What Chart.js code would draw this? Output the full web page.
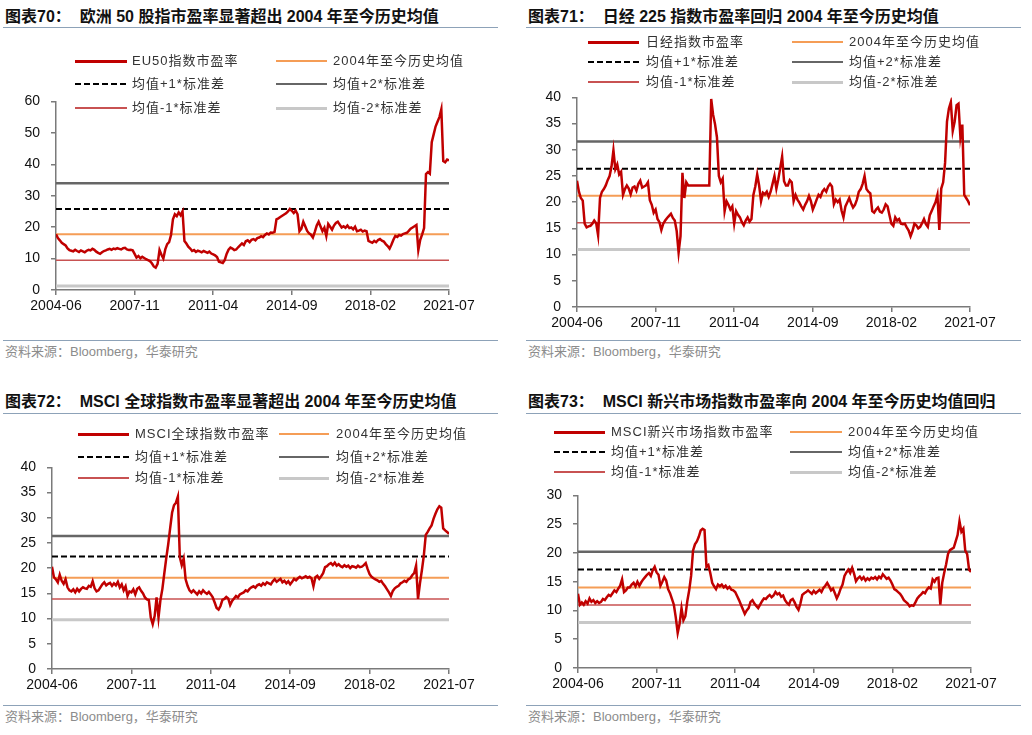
<!DOCTYPE html>
<html>
<head>
<meta charset="utf-8">
<script src="https://cdn.jsdelivr.net/npm/chart.js@4.4.0/dist/chart.umd.min.js"></script>
<style>
  body { margin: 0; width: 1032px; height: 735px; background: #fff; position: relative; overflow: hidden;
         font-family: "Liberation Sans", Arial, "Noto Sans CJK SC", sans-serif; }
  .abs { position: absolute; }
  .title { font-weight: bold; font-size: 16px; color: #111; white-space: pre; line-height: 20px;
           font-family: "Liberation Sans", Arial, "Noto Sans CJK SC", sans-serif; }
  .rule { height: 1px; background: #8DA2B8; }
  .src { font-size: 13px; color: #8c8c8c; white-space: nowrap; line-height: 16px; }
  .lg { font-size: 13px; color: #333; white-space: nowrap; line-height: 16px;
        font-family: "Liberation Sans", "Noto Sans CJK SC", sans-serif; letter-spacing: 1px; }
</style>
</head>
<body>
<script>
// month index 0 = 2004-06 ... 205 = 2021-07
const xTickLabels = ["2004-06", "2007-11", "2011-04", "2014-09", "2018-02", "2021-07"];
const bandNames = ["2004年至今历史均值", "均值+1*标准差", "均值+2*标准差", "均值-1*标准差", "均值-2*标准差"];
const sourceText = "资料来源：Bloomberg，华泰研究";

// EU50
const eu50Pe = [
  17.7, 16.5, 15.8, 15.0, 14.6, 14.2, 13.2,
  12.7, 12.5, 12.3, 12.8, 12.4, 12.1, 12.6, 12.3, 12.0, 12.5, 12.8, 12.6, 13.1, 12.8, 12.2, 11.8, 11.5,
  12.0, 12.4, 12.6, 12.9, 13.1, 12.8, 13.2, 13.0, 13.3, 13.1, 12.9, 13.3, 13.4, 12.9, 12.7, 12.8, 12.6,
  11.5, 10.3, 10.8, 10.1, 10.6, 10.2, 9.8, 9.5, 9.2, 8.5, 7.5, 7.1,
  8.3, 12.7, 11.2, 10.0, 12.9, 14.6, 15.2, 17.5, 22.5,
  24.1, 23.5, 24.7, 23.8, 25.0,
  15.6, 14.8, 13.8, 13.2, 12.4, 12.7, 12.1, 12.5, 12.3, 12.0, 12.4, 12.1, 11.8, 12.2, 11.6, 11.3, 11.0,
  10.5, 9.0, 8.8, 8.6, 9.5, 11.5, 12.8, 13.5,
  13.2, 12.7, 12.9, 13.6, 14.2, 14.8, 14.3, 15.5, 15.8,
  15.2, 16.0, 16.2, 15.8, 16.5, 16.7, 17.1, 16.8, 17.5, 18.0, 17.7, 18.3, 18.2, 18.5,
  22.5, 22.8, 23.2, 23.6, 24.0, 24.4, 25.0, 25.8, 25.2, 24.5, 25.3, 24.1,
  18.7, 19.5, 21.7, 20.3, 18.8, 18.0, 17.6, 16.7, 18.5, 20.5, 21.7, 20.2, 18.7, 19.8, 17.2, 21.0, 20.1, 19.2,
  20.5, 21.3, 21.7, 20.8, 19.9, 20.3, 19.8, 20.5, 19.7, 19.9, 19.3, 20.1, 18.7, 18.9, 19.2, 18.6, 18.9, 18.7,
  15.6, 15.3, 15.0, 15.6, 15.2, 15.9, 16.2, 15.7, 15.4, 14.6, 14.0, 13.2, 14.5,
  16.0, 17.2, 16.9, 17.5, 17.3, 17.8, 18.0, 18.2, 18.8, 19.5, 19.9, 20.3, 20.7,
  12.7, 16.0, 17.7, 19.7, 36.9, 37.5, 37.0, 47.0, 49.5, 52.0, 53.5, 55.0, 57.5, 41.0, 40.6, 41.5, 41.2
];
const eu50Bands = [17.7, 25.8, 34.0, 9.5, 1.3];

// Nikkei 225
const nikkeiPe = [
  24.1, 22.0, 20.8, 20.3,
  15.9, 15.2, 15.4, 15.5, 15.9, 16.5, 16.0, 13.7,
  20.8, 22.0, 22.5, 23.2, 24.2, 25.0, 26.8, 29.9, 26.3,
  27.2, 25.3, 25.8, 21.4, 22.5, 23.2, 22.6, 21.5, 22.8, 23.0, 22.2, 23.5, 24.1, 22.8, 23.0, 23.2, 23.8, 20.4,
  19.5, 18.0, 18.6, 16.8, 16.2, 14.7, 15.9, 16.5, 17.0, 17.4, 17.8, 17.0, 16.5, 14.5, 10.4,
  13.5, 25.6, 20.8, 23.8, 23.2,
  23.2, 23.2, 23.2, 23.2, 23.2, 23.2, 23.2, 23.2, 23.2, 23.2, 23.2,
  39.7, 36.7, 34.9, 32.4, 25.0, 23.8, 24.5, 18.3,
  20.2, 19.5, 18.6, 19.2, 15.9, 18.3, 17.6, 17.1, 16.2, 15.6, 16.5, 17.1, 16.3, 16.8,
  21.4, 23.0, 25.3, 23.2, 20.2, 21.8, 21.5, 22.0, 21.0, 22.0, 23.5, 25.0, 22.6, 24.4, 26.5, 28.7,
  24.0, 23.2, 23.2, 24.2, 23.8, 20.2, 21.4, 20.5, 19.9, 19.2, 18.6, 19.5, 20.2, 21.2, 20.2, 18.6, 19.5, 20.5, 21.4,
  21.0, 22.0, 22.5, 22.0, 23.0, 23.5, 23.0, 19.6, 20.5, 20.0, 20.5, 18.4, 17.1, 19.2, 20.0, 20.8, 19.8, 19.0,
  19.5, 20.5, 22.0, 22.5, 23.5, 25.0, 22.5, 22.0, 21.7,
  18.3, 18.0, 18.6, 19.0, 18.2, 18.0, 18.6, 19.6, 19.2, 17.5,
  15.9, 15.5, 17.1, 16.5, 16.8, 15.9, 15.8, 15.9, 15.2, 14.6, 13.5, 14.5, 15.9, 15.6, 15.0, 15.3,
  16.0, 16.8, 15.8, 15.3, 17.5, 18.3, 19.2, 20.0, 21.4, 14.7, 22.6,
  23.8, 27.5, 35.4, 37.9, 39.1, 33.6, 35.4, 38.5, 38.8, 32.4, 34.8, 21.4, 20.8, 20.2, 19.4
];
const nikkeiBands = [21.25, 26.4, 31.6, 16.1, 10.95];

// MSCI World
const msciWorldPe = [
  20.3, 18.2, 17.8, 17.2, 18.7, 17.5, 16.9, 17.8, 16.2, 15.6,
  15.4, 15.8, 15.2, 15.9, 15.4, 15.9, 16.2, 16.0, 15.9, 16.5, 16.3, 17.4, 16.0, 15.4, 15.6, 16.2,
  16.8, 17.2, 16.6, 16.9, 17.1, 16.5, 17.0, 16.6, 17.3, 16.2, 16.8, 15.6, 16.4, 14.5, 15.4,
  15.2, 15.8, 14.8, 15.9, 16.2, 15.5, 15.0, 14.2, 13.8, 13.7,
  10.2, 8.9, 10.5, 14.2, 10.2, 13.7, 15.9, 19.0,
  22.0, 24.7, 27.9, 31.0, 32.5, 33.0, 34.2,
  22.2, 20.6, 21.9, 17.8, 16.5, 15.6,
  15.2, 15.6, 15.2, 14.8, 15.4, 15.0, 15.6, 15.2, 14.9, 15.3, 14.8, 14.2, 13.2, 12.1, 11.8,
  12.5, 13.7, 13.9, 14.3, 14.0, 12.7, 13.5, 14.0, 14.5, 14.2, 14.8, 15.0, 15.2, 15.6,
  15.4, 15.9, 16.2, 16.4, 16.1, 16.6, 16.8, 16.5, 17.0, 16.7, 17.2, 17.0, 16.8, 17.4, 17.8,
  17.3, 17.6, 17.9, 17.2, 17.5, 17.0, 17.4, 16.8, 17.3, 17.9, 17.6, 18.0, 18.3, 18.0, 18.2,
  18.4, 18.1, 18.3, 18.0, 16.4, 18.2, 18.5, 17.9, 18.4, 19.0,
  20.2, 20.4, 20.8, 21.0, 20.6, 21.1, 20.5, 20.8, 20.4, 20.2, 20.6, 20.3, 20.5, 20.0, 20.4,
  20.3, 20.1, 20.5, 20.2, 20.3, 20.6, 21.0, 19.8, 18.8, 18.3,
  18.0, 17.8, 17.6, 17.3, 17.5, 16.9, 16.4, 15.8, 15.2, 14.5, 15.5, 16.0, 16.3, 16.5,
  17.0, 17.2, 17.5, 17.3, 17.8, 18.0, 18.6, 19.0, 20.5, 13.9, 17.0,
  19.6, 22.5, 26.6, 27.2, 27.9, 28.5, 29.8, 30.8, 31.7, 32.3, 32.0, 27.9, 27.5, 27.2, 26.8
];
const msciWorldBands = [18.1, 22.3, 26.4, 13.9, 9.75];

// MSCI Emerging Markets
const msciEmPe = [
  12.9, 11.0, 11.4, 11.0, 11.6, 11.2, 12.1, 11.5, 11.8, 11.3, 11.6,
  11.3, 11.5, 12.0, 11.8, 12.3, 12.7, 12.5, 13.0, 13.5, 13.2, 13.8, 14.3, 15.4, 13.2,
  13.5, 14.0, 14.0, 14.5, 14.8, 14.2, 15.0, 14.3, 14.9, 15.4, 15.8, 16.2, 16.5, 16.0, 17.0, 17.6, 16.6,
  16.2, 14.3, 15.0, 15.8, 15.2, 13.7, 13.0, 12.0, 11.0,
  8.8, 6.1, 7.7, 10.4, 8.3, 9.0, 11.6, 13.5,
  16.0, 20.4, 21.5, 22.0, 22.8, 23.9, 24.2, 24.0,
  17.6, 17.9, 16.5, 14.8, 14.2, 13.7,
  14.5, 14.2, 14.5, 14.0, 14.3, 13.8, 14.1, 13.6, 13.5, 13.2, 12.5, 11.8, 11.0, 10.2, 9.4,
  10.0, 10.4, 11.5, 11.8, 11.2, 10.8, 10.4, 11.0, 11.6, 12.1, 12.0, 12.4, 12.7, 12.3,
  12.6, 13.2, 12.8, 13.0, 12.4, 12.6, 11.8, 11.3, 11.0, 11.8, 12.0, 11.4, 10.6, 10.1, 11.2, 12.7, 13.0, 13.2, 13.5,
  13.2, 12.9, 13.4, 13.0, 13.3, 13.6, 13.2, 13.9, 14.3, 14.8, 14.2, 13.5, 13.8, 13.0, 12.1, 12.8, 13.8, 14.5, 16.0, 16.6,
  17.1, 16.5, 17.4, 16.4, 15.1, 15.6, 15.9, 15.4, 15.8, 15.2, 15.6, 15.3, 15.7, 15.5, 15.8, 15.4, 15.9, 15.6,
  16.3, 15.9, 15.5, 15.7, 15.2, 14.5,
  13.7, 13.5, 13.2, 12.9, 12.4, 11.8, 11.5, 11.2, 10.7, 10.9, 10.8, 11.4, 12.1, 12.5, 12.8, 13.2,
  13.0, 13.6, 14.0, 13.8, 15.4, 15.0, 15.6, 15.7, 11.0, 14.8,
  16.5, 18.0, 19.8, 20.5, 20.7, 20.9, 22.0, 23.1, 25.5, 23.7, 24.2, 20.4, 19.8, 17.1, 16.7
];
const msciEmBands = [14.0, 17.1, 20.2, 10.95, 7.9];

const RED = "#C00000";
const bandStyles = [
  { color: "#F59D56", width: 2, dash: [] },
  { color: "#000000", width: 2, dash: [6, 3] },
  { color: "#666666", width: 2.5, dash: [] },
  { color: "#C85252", width: 1.5, dash: [] },
  { color: "#C8C8C8", width: 3, dash: [] }
];

const panels = [
  { title: "图表70：  欧洲 50 股指市盈率显著超出 2004 年至今历史均值", name: "EU50指数市盈率",
    values: eu50Pe, bands: eu50Bands, yMax: 60, yStep: 10,
    box: { x: 3, titleY: 7, ruleY: 27, srcRuleY: 340, srcY: 344 },
    plot: { l: 56, t: 92, w: 393, h: 198 },
    legend: { rows: [61, 84, 108], c1: [75, 127, 132], c2: [276, 327, 333] } },
  { title: "图表71：  日经 225 指数市盈率回归 2004 年至今历史均值", name: "日经指数市盈率",
    values: nikkeiPe, bands: nikkeiBands, yMax: 40, yStep: 5,
    box: { x: 526, titleY: 7, ruleY: 27, srcRuleY: 340, srcY: 344 },
    plot: { l: 577, t: 88, w: 393, h: 219 },
    legend: { rows: [42, 62, 82], c1: [588, 639, 646], c2: [792, 843, 849] } },
  { title: "图表72：  MSCI 全球指数市盈率显著超出 2004 年至今历史均值", name: "MSCI全球指数市盈率",
    values: msciWorldPe, bands: msciWorldBands, yMax: 40, yStep: 5,
    box: { x: 3, titleY: 392, ruleY: 413, srcRuleY: 705, srcY: 709 },
    plot: { l: 52, t: 458, w: 397, h: 211 },
    legend: { rows: [434, 457, 478], c1: [78, 129, 135], c2: [279, 329, 336] } },
  { title: "图表73：  MSCI 新兴市场指数市盈率向 2004 年至今历史均值回归", name: "MSCI新兴市场指数市盈率",
    values: msciEmPe, bands: msciEmBands, yMax: 30, yStep: 5,
    box: { x: 526, titleY: 392, ruleY: 413, srcRuleY: 705, srcY: 709 },
    plot: { l: 578, t: 486, w: 393, h: 182 },
    legend: { rows: [432, 452, 472], c1: [554, 605, 611], c2: [790, 842, 848] } }
];

function addDiv(cls, css, text) {
  const d = document.createElement("div");
  d.className = "abs " + cls;
  Object.assign(d.style, css);
  if (text) d.textContent = text;
  document.body.appendChild(d);
  return d;
}

function legendSample(x1, x2, y, st) {
  const css = { left: x1 + "px", top: (y - st.width / 2) + "px", width: (x2 - x1) + "px", height: st.width + "px" };
  if (st.dash.length) {
    css.background = `repeating-linear-gradient(90deg, ${st.color} 0 ${st.dash[0]}px, transparent ${st.dash[0]}px ${st.dash[0] + st.dash[1]}px)`;
  } else {
    css.background = st.color;
  }
  addDiv("", css);
}

const axisGrey = "#7a7a7a";

panels.forEach(p => {
  const b = p.box;
  addDiv("title", { left: (b.x + 2) + "px", top: b.titleY + "px" }, p.title);
  addDiv("rule", { left: b.x + "px", top: b.ruleY + "px", width: "495px" });
  addDiv("rule", { left: b.x + "px", top: b.srcRuleY + "px", width: "495px" });
  addDiv("src", { left: (b.x + 2) + "px", top: b.srcY + "px" }, sourceText);

  const W = 40 + p.plot.w + 30, H = 10 + p.plot.h + 30;
  const wrap = addDiv("", { left: (p.plot.l - 40) + "px", top: (p.plot.t - 10) + "px", width: W + "px", height: H + "px" });
  const cv = document.createElement("canvas");
  cv.width = W; cv.height = H;
  cv.style.width = W + "px"; cv.style.height = H + "px";
  wrap.appendChild(cv);

  const datasets = [{
    label: p.name,
    data: p.values.map((v, i) => ({ x: i, y: v })),
    borderColor: RED, borderWidth: 2.5, pointRadius: 0, tension: 0
  }];
  p.bands.forEach((v, i) => {
    const st = bandStyles[i];
    datasets.push({
      label: bandNames[i],
      data: [{ x: 0, y: v }, { x: 205, y: v }],
      borderColor: st.color, borderWidth: st.width, borderDash: st.dash, pointRadius: 0
    });
  });

  new Chart(cv, {
    type: "line",
    data: { datasets: datasets },
    options: {
      responsive: false,
      animation: false,
      layout: { padding: { top: 10, right: 30, left: 0, bottom: 0 } },
      plugins: { legend: { display: false }, tooltip: { enabled: false } },
      scales: {
        x: {
          type: "linear", min: 0, max: 205,
          ticks: {
            stepSize: 41, autoSkip: false, maxRotation: 0, padding: 3, color: "#111",
            font: { size: 14, family: "Liberation Sans, Arial" },
            callback: v => xTickLabels[Math.round(v / 41)]
          },
          grid: { drawOnChartArea: false, tickLength: 5, color: axisGrey, lineWidth: 1.5 },
          border: { color: axisGrey, width: 1.5 },
          afterFit: s => { s.height = 30; }
        },
        y: {
          min: 0, max: p.yMax,
          ticks: { stepSize: p.yStep, padding: 11, color: "#111", font: { size: 14, family: "Liberation Sans, Arial" } },
          grid: { drawOnChartArea: false, tickLength: 5, color: axisGrey, lineWidth: 1.5 },
          border: { color: axisGrey, width: 1.5 },
          afterFit: s => { s.width = 40; }
        }
      }
    }
  });

  // legend, two columns x three rows, built from the datasets
  const lg = p.legend;
  datasets.forEach((ds, i) => {
    const row = Math.floor(i / 2), col = i % 2;
    const c = col === 0 ? lg.c1 : lg.c2;
    const y = lg.rows[row];
    const st = i === 0 ? { color: RED, width: 3, dash: [] } : bandStyles[i - 1];
    legendSample(c[0], c[1], y, st);
    addDiv("lg", { left: c[2] + "px", top: (y - 8) + "px" }, ds.label);
  });
});
</script>
</body>
</html>
